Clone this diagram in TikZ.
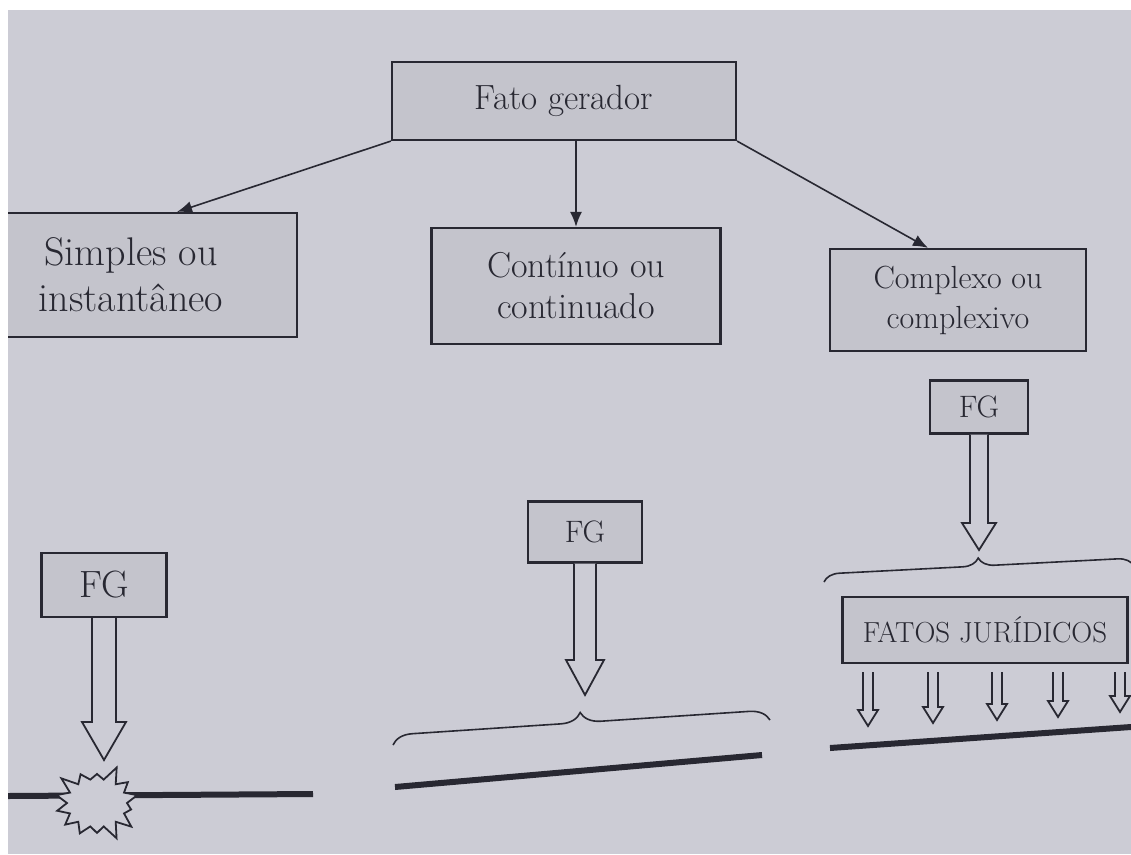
\documentclass[tikz,border=0pt]{standalone}
\usetikzlibrary{arrows.meta,shapes.symbols,decorations.pathreplacing,calc}

\definecolor{paper}{RGB}{204,204,213}
\definecolor{ink}{RGB}{40,40,50}

\tikzset{
  box/.style={draw=ink, line width=2.2pt, fill=paper!96!black, text=ink, align=center, inner sep=0pt},
  link/.style={draw=ink, line width=1.6pt, -{Latex[length=15pt,width=12pt]}},
  fat/.style={draw=ink, line width=1.8pt, fill=paper, line join=miter},
  ground/.style={draw=ink, line width=6pt},
  bracket/.style={draw=ink, line width=1.6pt, decorate, decoration={brace, amplitude=#1}},
}

% hollow arrow: from, to, half shaft, half head, head length
\newcommand{\hollowarrow}[5]{%
  \draw[fat] let \p1=(#1), \p2=(#2) in
    (\x1-#3pt,\y1) -- (\x1-#3pt,\y2+#5pt) -- (\x1-#4pt,\y2+#5pt) -- (\x1,\y2)
    -- (\x1+#4pt,\y2+#5pt) -- (\x1+#3pt,\y2+#5pt) -- (\x1+#3pt,\y1);
}

\begin{document}
\begin{tikzpicture}[x=1pt, y=-1pt]

  \useasboundingbox (0,0) rectangle (1131,854);
  \fill[paper] (0,0) rectangle (1131,854);

  % --- Top: fato gerador and its three kinds ---
  \node[box, minimum width=344pt, minimum height=78pt, font=\fontsize{35}{40}\selectfont]
    (fg) at (564,101) {Fato gerador};

  \node[box, minimum width=332pt, minimum height=124pt, font=\fontsize{40}{46}\selectfont]
    (simp) at (131,275) {Simples ou\\instantâneo};
  \node[box, minimum width=289pt, minimum height=116pt, font=\fontsize{36}{41}\selectfont]
    (cont) at (576,286) {Contínuo ou\\continuado};
  \node[box, minimum width=256pt, minimum height=102pt, font=\fontsize{32}{40}\selectfont]
    (comp) at (958,300) {Complexo ou\\complexivo};

  \draw[link] (fg.south west) -- ([xshift=46pt]simp.north);
  \draw[link] (fg.south -| cont.north) -- (cont.north);
  \draw[link] (fg.south east) -- ([xshift=-30pt]comp.north);

  % --- Left: simples (one instant) ---
  \node[box, minimum width=125pt, minimum height=64pt, font=\fontsize{38}{44}\selectfont]
    (fgA) at (104,585) {FG};
  \coordinate (tipA) at (104,760);
  \hollowarrow{fgA.south}{tipA}{12}{22}{38}

  \draw[ground] (8,796) -- (313,794);
  \node[starburst, draw=ink, fill=paper, line width=1.8pt, minimum width=92pt,
    minimum height=80pt, starburst points=14, starburst point height=16pt,
    random starburst=3] (burst) at (97,803) {};

  % --- Middle: continuo (a whole span) ---
  \node[box, minimum width=114pt, minimum height=61pt, font=\fontsize{31}{36}\selectfont]
    (fgB) at (585,532) {FG};
  \coordinate (tipB) at (585,695);
  \hollowarrow{fgB.south}{tipB}{11}{19}{35}

  \draw[bracket=20pt] (393,745) -- (770,720);
  \draw[ground] (395,787) -- (762,755);

  % --- Right: complexo (many facts) ---
  \node[box, minimum width=98pt, minimum height=53pt, font=\fontsize{31}{36}\selectfont]
    (fgC) at (979,407) {FG};
  \coordinate (tipC) at (979,550);
  \hollowarrow{fgC.south}{tipC}{9}{17}{27}

  \draw[bracket=16pt] (824,582) -- (1134,566);

  \node[box, minimum width=285pt, minimum height=66pt, font=\fontsize{29}{34}\selectfont]
    (fj) at (985,630) {FATOS JURÍDICOS};

  \foreach \i/\x/\e in {1/868/726, 2/933/723, 3/997/720, 4/1058/717, 5/1120/712} {
    \coordinate (s\i) at (\x,672);
    \coordinate (e\i) at (\x,\e);
    \hollowarrow{s\i}{e\i}{5}{10}{16}
  }

  \draw[ground] (830,748) -- (1131,727);

  % page edge
  \fill[white] (0,0) rectangle (1131,10);
  \fill[white] (0,0) rectangle (8,854);

\end{tikzpicture}
\end{document}
